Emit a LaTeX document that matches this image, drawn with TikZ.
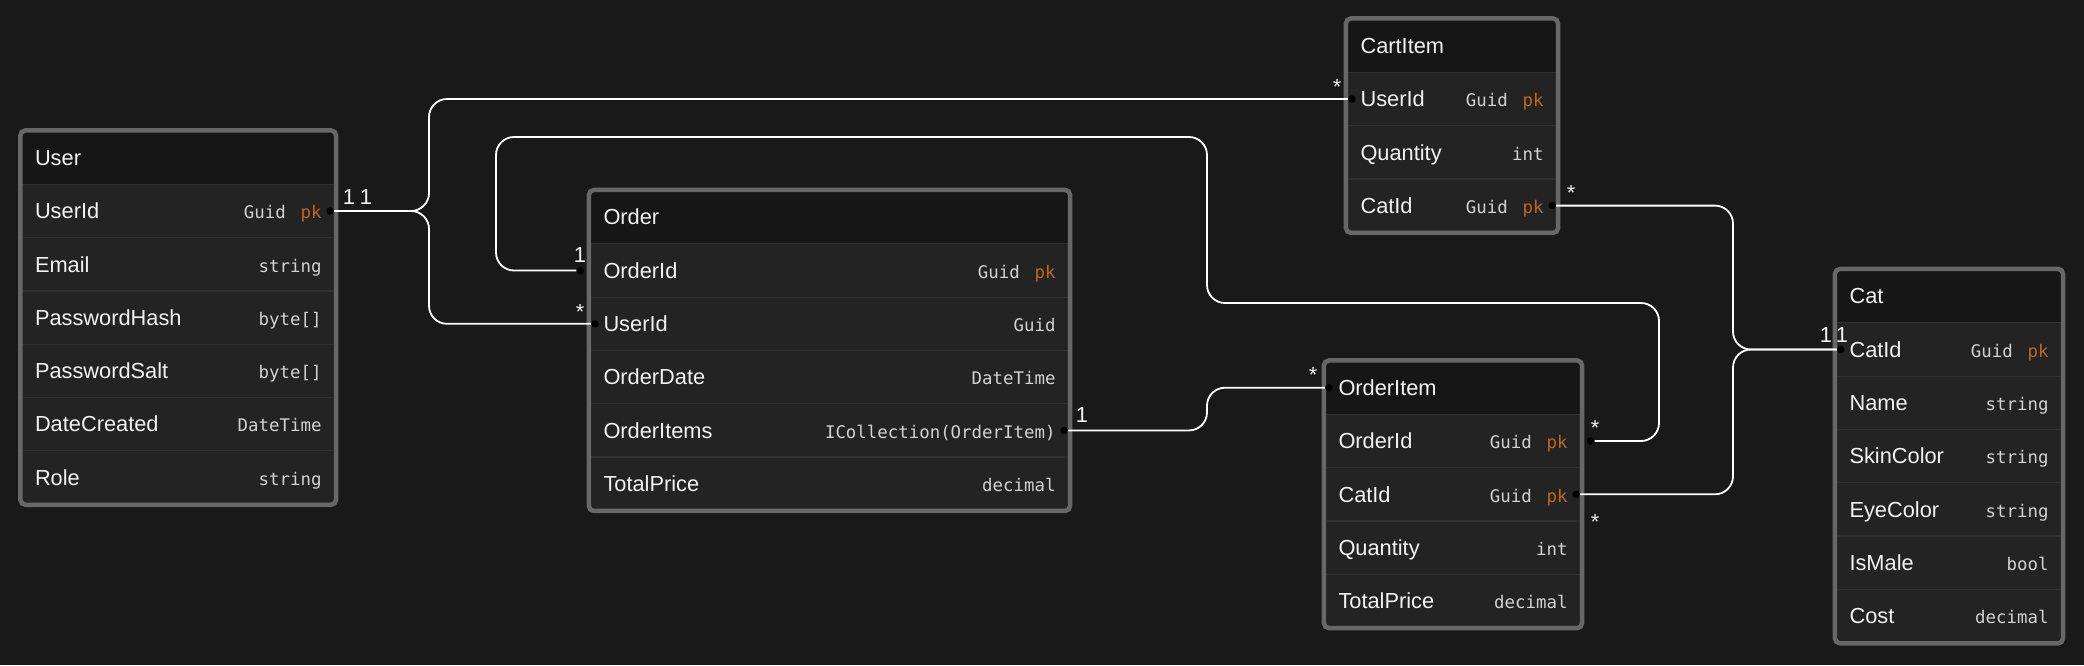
\documentclass[tikz,border=0pt]{standalone}
\usepackage{fontspec}
\setmainfont{Liberation Sans}
\setmonofont{DejaVu Sans Mono}
\definecolor{canvas}{HTML}{191919}
\definecolor{headbg}{HTML}{161616}
\definecolor{rowbg}{HTML}{232323}
\definecolor{rowsep}{HTML}{303030}
\definecolor{frameg}{HTML}{676767}
\definecolor{namew}{HTML}{F2F2F2}
\definecolor{typeg}{HTML}{D2D2D2}
\definecolor{pkorange}{HTML}{C0651E}
\newcommand{\ftype}[1]{{\fontsize{8.7}{10}\ttfamily\color{typeg}#1}}
\newcommand{\fpk}{\hspace{0.85em}\textcolor{pkorange}{pk}}
\begin{document}
\begin{tikzpicture}[x=0.5pt,y=-0.5pt]
			\tikzstyle{field}=[rectangle,fill=rowbg,draw=rowsep,line width=0.6pt,minimum height=26.65pt,inner xsep=7pt,inner ysep=0pt,text height=9.7pt,text depth=2pt,align=left,text=namew,font=\fontsize{10.9}{12}\selectfont]
			\tikzstyle{head}=[fill=headbg]
			\tikzstyle{frame}=[draw=frameg,line width=2.25pt,rounded corners=2.5pt]
			\tikzstyle{link}=[draw=white,line width=0.9pt,rounded corners=9pt]
			\tikzstyle{dot}=[circle,fill=black,inner sep=0pt,minimum size=3.6pt]
			\tikzstyle{card}=[inner sep=0pt,text=namew,font=\fontsize{10.9}{12}\selectfont]
			\fill[canvas] (0,0) rectangle (2084,665);
			\useasboundingbox (0,0) rectangle (2084,665);
			
			\begin{scope}[nodes={field,text width=143.25pt}]
			\node[head] (U-0) at (178.25,157.7) {User};
			\node (U-1) at (178.25,211)   {UserId\hfill\ftype{Guid\fpk}};
			\node (U-2) at (178.25,264.3) {Email\hfill\ftype{string}};
			\node (U-3) at (178.25,317.6) {PasswordHash\hfill\ftype{byte[]}};
			\node (U-4) at (178.25,370.9) {PasswordSalt\hfill\ftype{byte[]}};
			\node (U-5) at (178.25,424.2) {DateCreated\hfill\ftype{DateTime}};
			\node (U-6) at (178.25,477.5) {Role\hfill\ftype{string}};
			\end{scope}
			
			\begin{scope}[nodes={field,text width=226pt}]
			\node[head] (O-0) at (829.5,217.2) {Order};
			\node (O-1) at (829.5,270.5) {OrderId\hfill\ftype{Guid\fpk}};
			\node (O-2) at (829.5,323.8) {UserId\hfill\ftype{Guid}};
			\node (O-3) at (829.5,377.1) {OrderDate\hfill\ftype{DateTime}};
			\node (O-4) at (829.5,430.4) {OrderItems\hfill\ftype{ICollection(OrderItem)}};
			\node (O-5) at (829.5,483.7) {TotalPrice\hfill\ftype{decimal}};
			\end{scope}
			
			\begin{scope}[nodes={field,text width=91.5pt}]
			\node[head] (C-0) at (1452,45.7) {CartItem};
			\node (C-1) at (1452,99)    {UserId\hfill\ftype{Guid\fpk}};
			\node (C-2) at (1452,152.3) {Quantity\hfill\ftype{int}};
			\node (C-3) at (1452,205.6) {CatId\hfill\ftype{Guid\fpk}};
			\end{scope}
			
			\begin{scope}[nodes={field,text width=114.5pt}]
			\node[head] (I-0) at (1453,387.7) {OrderItem};
			\node (I-1) at (1453,441)   {OrderId\hfill\ftype{Guid\fpk}};
			\node (I-2) at (1453,494.3) {CatId\hfill\ftype{Guid\fpk}};
			\node (I-3) at (1453,547.6) {Quantity\hfill\ftype{int}};
			\node (I-4) at (1453,600.9) {TotalPrice\hfill\ftype{decimal}};
			\end{scope}
			
			\begin{scope}[nodes={field,text width=99.5pt}]
			\node[head] (K-0) at (1949,296.2) {Cat};
			\node (K-1) at (1949,349.5) {CatId\hfill\ftype{Guid\fpk}};
			\node (K-2) at (1949,402.8) {Name\hfill\ftype{string}};
			\node (K-3) at (1949,456.1) {SkinColor\hfill\ftype{string}};
			\node (K-4) at (1949,509.4) {EyeColor\hfill\ftype{string}};
			\node (K-5) at (1949,562.7) {IsMale\hfill\ftype{bool}};
			\node (K-6) at (1949,616)   {Cost\hfill\ftype{decimal}};
			\end{scope}
			
			\draw[frame] (U-0.north west) rectangle (U-6.south east);
			\draw[frame] (O-0.north west) rectangle (O-5.south east);
			\draw[frame] (C-0.north west) rectangle (C-3.south east);
			\draw[frame] (I-0.north west) rectangle (I-4.south east);
			\draw[frame] (K-0.north west) rectangle (K-6.south east);
			
			\node[dot] (d-uid)  at ([xshift=-3pt]U-1.east) {};
			\node[dot] (d-cuid) at ([xshift=3pt]C-1.west) {};
			\node[dot] (d-ccat) at ([xshift=-3pt]C-3.east) {};
			\node[dot] (d-ooid) at ([xshift=-4.25pt]O-1.west) {};
			\node[dot] (d-ouid) at ([xshift=3pt]O-2.west) {};
			\node[dot] (d-oits) at ([xshift=-3pt]O-4.east) {};
			\node[dot] (d-ihead) at ([xshift=2.5pt]I-0.west) {};
			\node[dot] (d-ioid) at ([xshift=4.25pt]I-1.east) {};
			\node[dot] (d-icat) at ([xshift=-3pt]I-2.east) {};
			\node[dot] (d-kcat) at ([xshift=3pt]K-1.west) {};
			
			\coordinate (bend-U) at (429,0);
			\coordinate (bend-O) at (496,137);
			\coordinate (bend-M) at (1207,303);
			\coordinate (bend-R) at (1659,0);
			\coordinate (bend-C) at (1733,0);
			
			\draw[link] (d-uid) -| (bend-U |- d-cuid) -- (d-cuid);
			\draw[link] (d-uid) -| (bend-U |- d-ouid) -- (d-ouid);
			\draw[link] (d-ooid) -| (bend-O) -| (bend-M) -| (bend-R |- d-ioid) -- (d-ioid);
			\draw[link] (d-oits) -| (bend-M |- d-ihead) -- (d-ihead);
			\draw[link] (d-ccat) -| (bend-C |- d-kcat) -- (d-kcat);
			\draw[link] (d-icat) -| (bend-C |- d-kcat) -- (d-kcat);
			
			\node[dot] at (d-uid) {};
			\node[dot] at (d-cuid) {};
			\node[dot] at (d-ccat) {};
			\node[dot] at (d-ooid) {};
			\node[dot] at (d-ouid) {};
			\node[dot] at (d-oits) {};
			\node[dot] at (d-ihead) {};
			\node[dot] at (d-ioid) {};
			\node[dot] at (d-icat) {};
			\node[dot] at (d-kcat) {};
			
			\node[card] (l-1)  at (349,197)    {1};
			\node[card] (l-2)  at (366,197)    {1};
			\node[card] (l-3)  at (1337,86.5)  {*};
			\node[card] (l-4)  at (580,255)    {1};
			\node[card] (l-5)  at (580,311.5)  {*};
			\node[card] (l-6)  at (1082,415)   {1};
			\node[card] (l-7)  at (1313,374.5) {*};
			\node[card] (l-8)  at (1595,427.5) {*};
			\node[card] (l-9)  at (1595,521.5) {*};
			\node[card] (l-10) at (1571,192.5) {*};
			\node[card] (l-11) at (1826,335)   {1};
			\node[card] (l-12) at (1842,335)   {1};
		\end{tikzpicture}
\end{document}
